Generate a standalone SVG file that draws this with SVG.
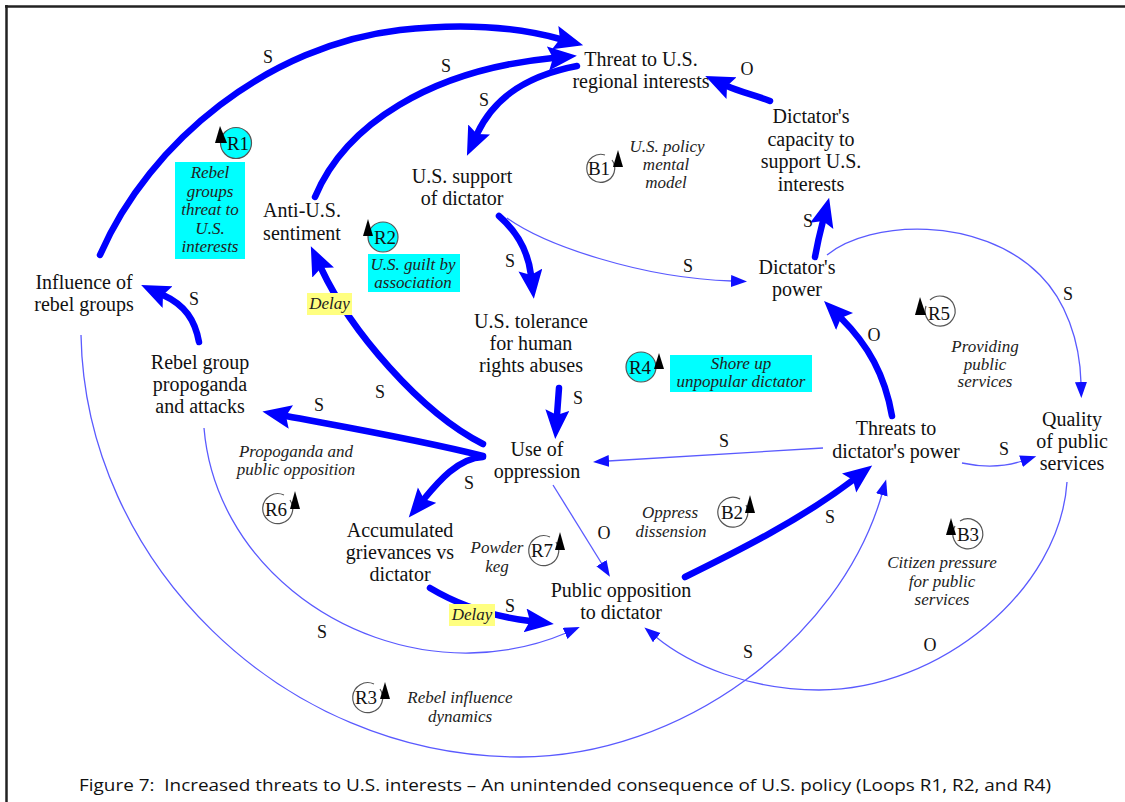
<svg xmlns="http://www.w3.org/2000/svg" width="1125" height="802" viewBox="0 0 1125 802">
<defs>
<style>
.n{font-family:"Liberation Serif",serif;font-size:20px;text-anchor:middle;fill:#111}
.a{font-family:"Liberation Serif",serif;font-size:17px;font-style:italic;text-anchor:middle;fill:#222}
.p{font-family:"Liberation Serif",serif;font-size:18px;text-anchor:middle;fill:#111}
.lp{font-family:"Liberation Serif",serif;font-size:19px;text-anchor:middle;fill:#111}
.thick{fill:none;stroke:#0000ff;stroke-width:6.5;stroke-linecap:round;marker-end:url(#ah)}
.thin{fill:none;stroke:#5a5aff;stroke-width:1.3;marker-end:url(#at)}
.ring{fill:none;stroke:#555;stroke-width:1.2}
.cring{fill:#00ffff;stroke:#555;stroke-width:1.2}
.tri{fill:#000}
.cyan{fill:#00ffff}
.delay{fill:#ffff80}
</style>
<marker id="ah" markerUnits="userSpaceOnUse" markerWidth="32" markerHeight="26" refX="5" refY="12" orient="auto"><path d="M0,0 L29,12 L0,24 L5,12 Z" fill="#0000ff"/></marker>
<marker id="at" markerUnits="userSpaceOnUse" markerWidth="18" markerHeight="14" refX="1" refY="6" orient="auto"><path d="M0,0 L16,6 L0,12 Z" fill="#1010ff"/></marker>
</defs>
<rect width="1125" height="802" fill="#fff"/>
<g id="frame">
<line x1="5" y1="6.5" x2="1125" y2="6.5" stroke="#222" stroke-width="2.5"/>
<line x1="6.5" y1="5" x2="6.5" y2="802" stroke="#222" stroke-width="2.5"/>
</g>
<g id="connectors">
<path class="thick" d="M100,255 C150,140 270,45 400,30 C470,22 520,28 560,39"/>
<path class="thick" d="M315,197 C345,125 430,70 553,58"/>
<path class="thick" d="M577,66 C530,75 495,95 477,134"/>
<path class="thick" d="M770,101 C755,95 740,92 727,86"/>
<path class="thick" d="M815,257 Q818,240 823,221"/>
<path class="thick" d="M499,216 C515,230 528,250 531,275"/>
<path class="thick" d="M199,342 C195,320 185,305 163,295"/>
<path class="thick" d="M483,456 C420,440 350,428 286,416"/>
<path class="thick" d="M483,444 C420,412 350,330 321,268"/>
<path class="thick" d="M483,457 C458,458 438,482 424,499"/>
<path class="thick" d="M559,388 L557,415"/>
<path class="thick" d="M892,416 C885,375 868,345 841,318"/>
<path class="thick" d="M430,588 C455,603 490,616 530,621"/>
<path class="thick" d="M685,577 C740,550 800,520 853,480"/>
<path class="thin" d="M507,218 C545,245 640,278 732,281"/>
<path class="thin" d="M827,255 C870,220 980,215 1040,275 C1065,300 1080,340 1081,383"/>
<path class="thin" d="M823,448 L608,461"/>
<path class="thin" d="M962,463 Q995,470 1022,461"/>
<path class="thin" d="M553,485 L602,564"/>
<path class="thin" d="M204,428 C215,560 340,655 470,653 C515,652 545,642 566,633"/>
<path class="thin" d="M81,335 C85,560 280,757 520,757 C680,757 840,640 882,494"/>
<path class="thin" d="M1067,482 C1060,590 940,690 819,690 C750,690 690,665 656,637"/>
</g>
<g id="polarities">
<text class="p" x="268" y="63">S</text>
<text class="p" x="446" y="72">S</text>
<text class="p" x="484" y="106">S</text>
<text class="p" x="747" y="75">O</text>
<text class="p" x="808" y="227">S</text>
<text class="p" x="510" y="267">S</text>
<text class="p" x="688" y="272">S</text>
<text class="p" x="1068" y="300">S</text>
<text class="p" x="194" y="305">S</text>
<text class="p" x="319" y="411">S</text>
<text class="p" x="380" y="398">S</text>
<text class="p" x="578" y="404">S</text>
<text class="p" x="874" y="341">O</text>
<text class="p" x="724" y="447">S</text>
<text class="p" x="1004" y="455">S</text>
<text class="p" x="469" y="489">S</text>
<text class="p" x="604" y="539">O</text>
<text class="p" x="830" y="523">S</text>
<text class="p" x="510" y="612">S</text>
<text class="p" x="322" y="638">S</text>
<text class="p" x="748" y="658">S</text>
<text class="p" x="930" y="651">O</text>
</g>
<g id="delays">
<rect class="delay" x="307" y="293" width="45" height="22"/>
<text class="a" x="329.5" y="309">Delay</text>
<rect class="delay" x="449" y="604" width="46" height="22"/>
<text class="a" x="472" y="620">Delay</text>
</g>
<g id="threat-us">
<text class="n" x="641" y="66">Threat to U.S.</text>
<text class="n" x="641" y="88">regional interests</text>
</g>
<g id="capacity">
<text class="n" x="811" y="123">Dictator's</text>
<text class="n" x="811" y="145.5">capacity to</text>
<text class="n" x="811" y="168">support U.S.</text>
<text class="n" x="811" y="190.5">interests</text>
</g>
<g id="us-support">
<text class="n" x="462" y="183">U.S. support</text>
<text class="n" x="462" y="205">of dictator</text>
</g>
<g id="anti-us">
<text class="n" x="302" y="217">Anti-U.S.</text>
<text class="n" x="302" y="240">sentiment</text>
</g>
<g id="influence">
<text class="n" x="84" y="289">Influence of</text>
<text class="n" x="84" y="311">rebel groups</text>
</g>
<g id="dictator-power">
<text class="n" x="797" y="274">Dictator's</text>
<text class="n" x="797" y="296">power</text>
</g>
<g id="tolerance">
<text class="n" x="531" y="328">U.S. tolerance</text>
<text class="n" x="531" y="350">for human</text>
<text class="n" x="531" y="372">rights abuses</text>
</g>
<g id="rebel-propaganda">
<text class="n" x="200" y="369">Rebel group</text>
<text class="n" x="200" y="391">propoganda</text>
<text class="n" x="200" y="413">and attacks</text>
</g>
<g id="use-oppression">
<text class="n" x="537" y="456">Use of</text>
<text class="n" x="537" y="478">oppression</text>
</g>
<g id="threats-power">
<text class="n" x="896" y="435">Threats to</text>
<text class="n" x="896" y="458">dictator's power</text>
</g>
<g id="quality">
<text class="n" x="1072" y="426">Quality</text>
<text class="n" x="1072" y="448">of public</text>
<text class="n" x="1072" y="470">services</text>
</g>
<g id="grievances">
<text class="n" x="400" y="537">Accumulated</text>
<text class="n" x="400" y="559">grievances vs</text>
<text class="n" x="400" y="581">dictator</text>
</g>
<g id="public-opposition">
<text class="n" x="621" y="597">Public opposition</text>
<text class="n" x="621" y="619">to dictator</text>
</g>
<g id="loop-R1">
<circle class="cring" cx="236" cy="143" r="15.5"/>
<polygon class="tri" points="220,126 215,143 227,143"/>
<text class="lp" x="238" y="150">R1</text>
<rect class="cyan" x="175" y="162" width="70" height="97"/>
<text class="a" x="210" y="178">Rebel</text>
<text class="a" x="210" y="196.5">groups</text>
<text class="a" x="210" y="215">threat to</text>
<text class="a" x="210" y="233.5">U.S.</text>
<text class="a" x="210" y="252">interests</text>
</g>
<g id="loop-R2">
<circle class="cring" cx="383" cy="237" r="15"/>
<polygon class="tri" points="368,219 363,236 373,236"/>
<text class="lp" x="385" y="244">R2</text>
<rect class="cyan" x="368" y="254" width="92" height="38"/>
<text class="a" x="413" y="270">U.S. guilt by</text>
<text class="a" x="413" y="288">association</text>
</g>
<g id="loop-B1">
<path class="ring" d="M612,160 A14,14 0 1 1 605,155"/>
<polygon class="tri" points="618,150 613,167 623,167"/>
<text class="lp" x="599" y="175">B1</text>
<text class="a" x="667" y="152">U.S. policy</text>
<text class="a" x="666" y="170">mental</text>
<text class="a" x="666" y="188">model</text>
</g>
<g id="loop-R4">
<circle class="cring" cx="641" cy="367" r="15"/>
<polygon class="tri" points="659,353 654,369 664,369"/>
<text class="lp" x="640" y="374">R4</text>
<rect class="cyan" x="670" y="355" width="142" height="37"/>
<text class="a" x="741" y="369">Shore up</text>
<text class="a" x="741" y="387">unpopular dictator</text>
</g>
<g id="loop-R5">
<path class="ring" d="M930,300 A15,15 0 1 1 926,306"/>
<polygon class="tri" points="920,297 915,315 926,315"/>
<text class="lp" x="939" y="320">R5</text>
<text class="a" x="985" y="352">Providing</text>
<text class="a" x="985" y="370">public</text>
<text class="a" x="985" y="387">services</text>
</g>
<g id="loop-R6">
<path class="ring" d="M290,500 A15,15 0 1 1 284,495"/>
<polygon class="tri" points="295,491 290,509 300,509"/>
<text class="lp" x="276" y="516">R6</text>
<text class="a" x="296" y="457">Propoganda and</text>
<text class="a" x="296" y="475">public opposition</text>
</g>
<g id="loop-R7">
<path class="ring" d="M556,542 A15,15 0 1 1 550,537"/>
<polygon class="tri" points="560,532 555,550 565,550"/>
<text class="lp" x="542" y="557">R7</text>
<text class="a" x="497" y="553">Powder</text>
<text class="a" x="497" y="572">keg</text>
</g>
<g id="loop-B2">
<path class="ring" d="M746,505 A15,15 0 1 1 740,499"/>
<polygon class="tri" points="750,495 745,513 755,513"/>
<text class="lp" x="732" y="519">B2</text>
<text class="a" x="670" y="518">Oppress</text>
<text class="a" x="671" y="537">dissension</text>
</g>
<g id="loop-B3">
<path class="ring" d="M960,521 A15,15 0 1 1 955,526"/>
<polygon class="tri" points="951,518 946,535 956,535"/>
<text class="lp" x="968" y="541">B3</text>
<text class="a" x="942" y="568">Citizen pressure</text>
<text class="a" x="942" y="587">for public</text>
<text class="a" x="942" y="605">services</text>
</g>
<g id="loop-R3">
<path class="ring" d="M380,689 A15,15 0 1 1 374,684"/>
<polygon class="tri" points="385,682 380,699 390,699"/>
<text class="lp" x="366" y="704">R3</text>
<text class="a" x="460" y="703">Rebel influence</text>
<text class="a" x="460" y="722">dynamics</text>
</g>
<g id="caption">
<text x="565" y="791" font-family="Open Sans, Liberation Sans, sans-serif" font-size="17" text-anchor="middle" fill="#111" textLength="972" lengthAdjust="spacingAndGlyphs" xml:space="preserve">Figure 7:  Increased threats to U.S. interests – An unintended consequence of U.S. policy (Loops R1, R2, and R4)</text>
</g>
</svg>
